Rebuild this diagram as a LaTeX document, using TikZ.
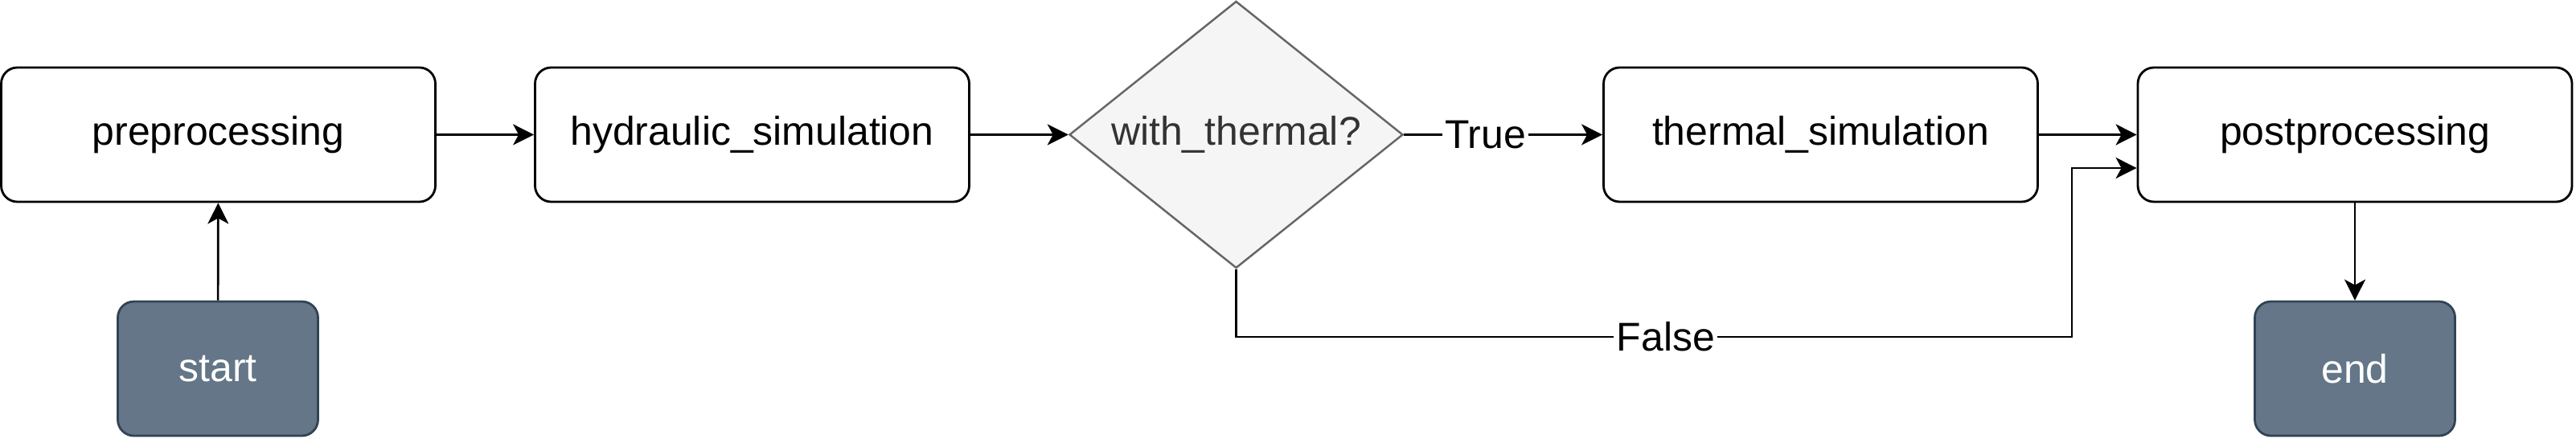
\documentclass[tikz,border=0pt]{standalone}
\usepackage{fontspec}
\setmainfont{Liberation Sans}
\usepackage{tikz}
\usetikzlibrary{positioning, shapes.geometric, arrows.meta}

\definecolor{termfill}{HTML}{647687}
\definecolor{termdraw}{HTML}{314354}
\definecolor{decfill}{HTML}{F5F5F5}
\definecolor{decdraw}{HTML}{666666}
\definecolor{dectext}{HTML}{333333}

\begin{document}
\begin{tikzpicture}[
				stepbox/.style={draw, line width=0.8pt, rounded corners=0.2cm, minimum width=5.40cm, minimum height=1.67cm, font=\fontsize{14.2}{17}\selectfont},
				terminal/.style={draw=termdraw, fill=termfill, text=white, line width=0.8pt, rounded corners=0.2cm, minimum width=2.49cm, minimum height=1.67cm, font=\fontsize{14.2}{17}\selectfont},
				decision/.style={draw=decdraw, fill=decfill, text=dectext, diamond, aspect=1.25, line width=0.7pt, inner sep=0pt, minimum width=4.15cm, minimum height=3.32cm, font=\fontsize{14.2}{17}\selectfont},
				conn/.style={draw, line width=0.75pt, -{Stealth[length=0.26cm, width=0.26cm, inset=0.07cm]}},
				lbl/.style={fill=white, inner sep=1pt, font=\fontsize{14.2}{17}\selectfont},
				]
				\useasboundingbox (0,0) rectangle (32.04,5.46);
				
				%% ── Main row ───────────────────────────────────────────────────────────
				\node[stepbox] (pre)   at (2.715,3.785)  {preprocessing};
				\node[stepbox] (hyd)   at (9.355,3.785)  {hydraulic\_simulation};
				\node[decision] (dia)  at (15.375,3.785) {with\_thermal?};
				\node[stepbox] (therm) at (22.645,3.785) {thermal\_simulation};
				\node[stepbox] (post)  at (29.29,3.785)  {postprocessing};
				
				%% ── Start / end ────────────────────────────────────────────────────────
				\node[terminal] (start) at (2.71,0.875)  {start};
				\node[terminal] (end)   at (29.29,0.875) {end};
				
				\coordinate (fk) at (25.77,1.27);
				
				\draw[conn] (start) -- (pre);
				\draw[conn] (pre) -- (hyd);
				\draw[conn] (hyd) -- (dia);
				\draw[conn] (dia) -- node[lbl, pos=0.41] {True} (therm);
				\draw[conn] (therm) -- (post);
				\draw[conn] (dia.south) |- node[lbl, pos=0.757] {False} (fk) |- ([yshift=-0.415cm]post.west);
				\draw[conn] (post) -- (end);
				
			\end{tikzpicture}
\end{document}
